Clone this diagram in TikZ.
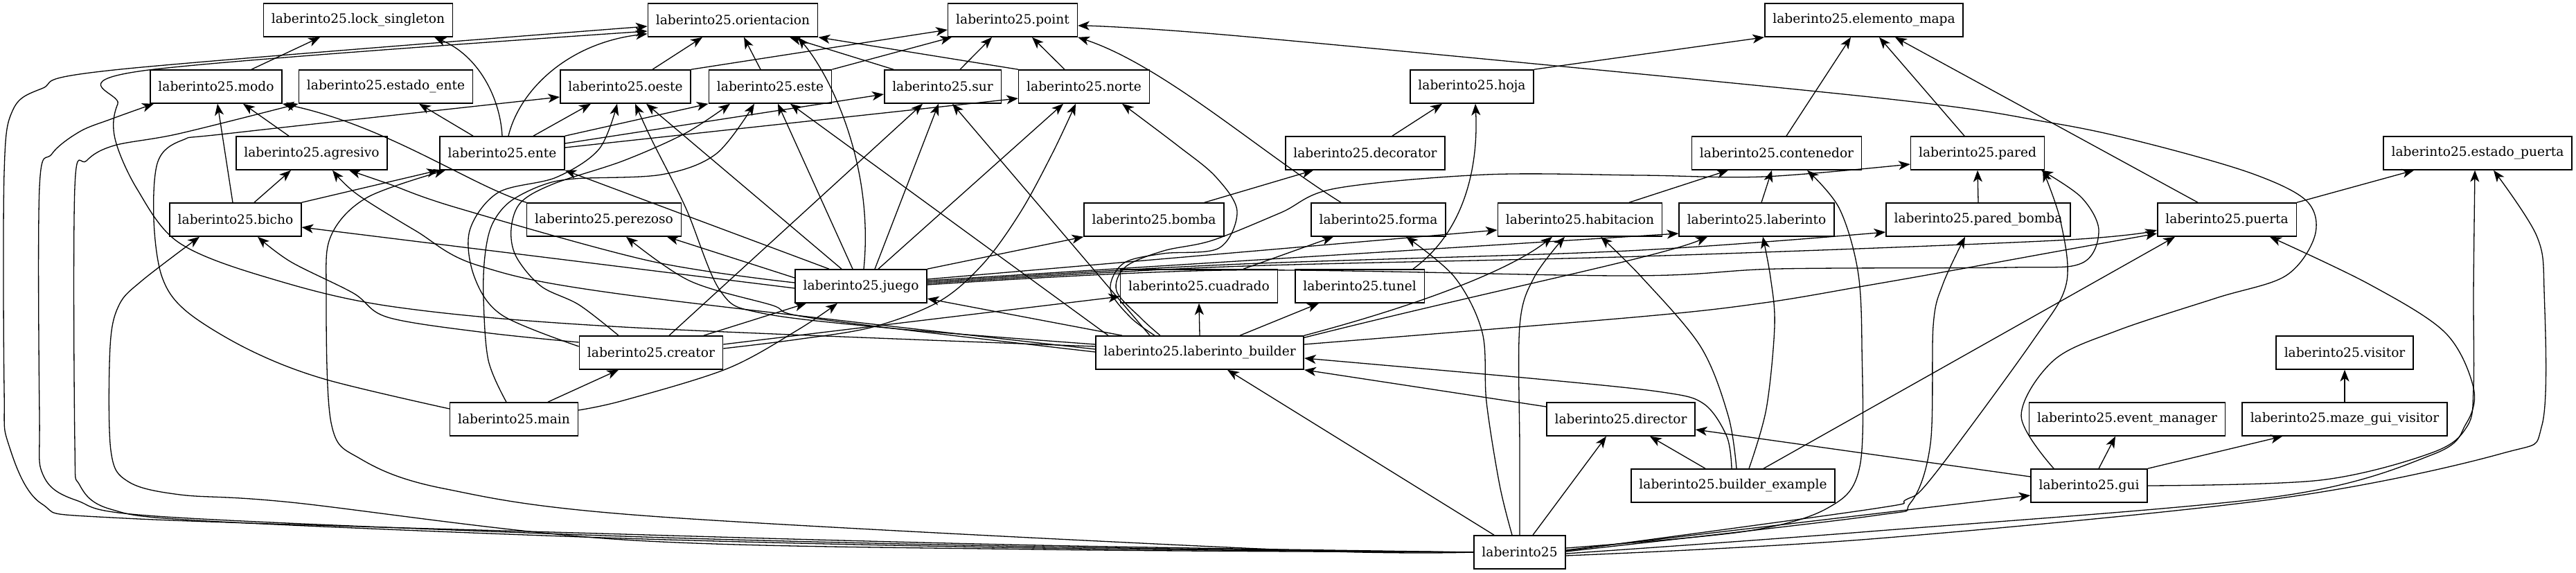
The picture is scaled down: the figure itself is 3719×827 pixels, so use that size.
\documentclass[tikz,border=0pt]{standalone}
\usepackage{fontspec}
\setmainfont{DejaVu Serif}
\usetikzlibrary{arrows.meta,calc}

\begin{document}
\begin{tikzpicture}[
    x=0.01889cm, y=-0.01889cm,
    mod/.style={draw, line width=0.85pt, minimum height=25.8pt, inner xsep=6.2pt, inner ysep=0pt},
    dep/.style={-{Stealth[length=9pt,width=7pt,inset=2.5pt]}, line width=0.7pt},
    curvy/.style={smooth, tension=0.55}]
  % fixed canvas, in pixels of the layout (y grows downwards)
  \path[use as bounding box] (0,0) rectangle (3719,827);

  % ================= modules, row by row =================
  \node[mod] (lock)     at (517,29)   {laberinto25.lock\_singleton};
  \node[mod] (orient)   at (1058,29)  {laberinto25.orientacion};
  \node[mod] (point)    at (1462,29)  {laberinto25.point};
  \node[mod] (elem)     at (2691,29)  {laberinto25.elemento\_mapa};

  \node[mod] (modo)     at (312,125)  {laberinto25.modo};
  \node[mod] (estente)  at (557,125)  {laberinto25.estado\_ente};
  \node[mod] (oeste)    at (903,125)  {laberinto25.oeste};
  \node[mod] (este)     at (1112,125) {laberinto25.este};
  \node[mod] (sur)      at (1361,125) {laberinto25.sur};
  \node[mod] (norte)    at (1565,125) {laberinto25.norte};
  \node[mod] (hoja)     at (2125,125) {laberinto25.hoja};

  \node[mod] (agresivo) at (450,221)  {laberinto25.agresivo};
  \node[mod] (ente)     at (725,221)  {laberinto25.ente};
  \node[mod] (decor)    at (1971,221) {laberinto25.decorator};
  \node[mod] (conten)   at (2565,221) {laberinto25.contenedor};
  \node[mod] (pared)    at (2855,221) {laberinto25.pared};
  \node[mod] (estpuerta) at (3577,221) {laberinto25.estado\_puerta};

  \node[mod] (bicho)    at (340,317)  {laberinto25.bicho};
  \node[mod] (perezoso) at (872,317)  {laberinto25.perezoso};
  \node[mod] (bomba)    at (1666,317) {laberinto25.bomba};
  \node[mod] (forma)    at (1990,317) {laberinto25.forma};
  \node[mod] (habit)    at (2281,317) {laberinto25.habitacion};
  \node[mod] (laber)    at (2536,317) {laberinto25.laberinto};
  \node[mod] (pbomba)   at (2856,317) {laberinto25.pared\_bomba};
  \node[mod] (puerta)   at (3215,317) {laberinto25.puerta};

  \node[mod] (juego)    at (1243,413) {laberinto25.juego};
  \node[mod] (cuadrado) at (1731,413) {laberinto25.cuadrado};
  \node[mod] (tunel)    at (1963,413) {laberinto25.tunel};

  \node[mod] (creator)  at (940,509)  {laberinto25.creator};
  \node[mod] (builder)  at (1732,509) {laberinto25.laberinto\_builder};
  \node[mod] (visitor)  at (3385,509) {laberinto25.visitor};

  \node[mod] (main)     at (742,605)  {laberinto25.main};
  \node[mod] (director) at (2340,605) {laberinto25.director};
  \node[mod] (evman)    at (3071,605) {laberinto25.event\_manager};
  \node[mod] (mgvis)    at (3385,605) {laberinto25.maze\_gui\_visitor};

  \node[mod] (bexample) at (2502,701) {laberinto25.builder\_example};
  \node[mod] (gui)      at (3016,701) {laberinto25.gui};

  \node[mod] (pkg)      at (2194,797) {laberinto25};

  % ================= package imports (bundle round the left side) =================
  \draw[dep] plot[curvy] coordinates {(pkg.west) (1500,787) (900,771) (180,748) (60,727) (12,640) (6,560) (6,250) (18,160) (60,128) (174,100) ($(orient.west)+(0,9)$)};
  \draw[dep] plot[curvy] coordinates {(pkg.west) (1500,789) (900,774) (240,746) (110,722) (62,685) (57,600) (57,270) (75,222) (115,190) (160,172) ($(modo.south)+(-90,0)$)};
  \draw[dep] plot[curvy] coordinates {(pkg.west) (1500,791) (900,777) (300,752) (160,735) (115,700) (108,640) (108,270) (125,232) (165,210) (258,193) (estente.south west)};
  \draw[dep] plot[curvy] coordinates {(pkg.west) (1500,793) (900,779) (420,725) (260,714) (185,695) (160,650) (159,500) (172,440) (205,405) ($(bicho.south)+(-52,0)$)};
  \draw[dep] plot[curvy] coordinates {(pkg.west) (1840,793) (940,745) (640,705) (520,662) (478,610) (471,420) (478,340) (530,285) ($(ente.south)+(-82,0)$)};
  % upwards and to the right
  \draw[dep] ($(pkg.north)+(-37,0)$) -- ($(builder.south)+(40,0)$);
  \draw[dep] plot[curvy] coordinates {($(pkg.north)+(-11,0)$) (2165,700) (2146,580) (2140,480) (2100,400) ($(forma.south)+(40,0)$)};
  \draw[dep] plot[curvy] coordinates {(pkg.north) (2194,650) (2194,470) (2215,400) ($(habit.south)+(-22,0)$)};
  \draw[dep] ($(pkg.north)+(19,0)$) -- ($(director.south)+(-21,0)$);
  \draw[dep] ($(pkg.east)+(0,-3)$) -- ($(gui.west)+(0,14)$);
  \draw[dep] plot[curvy] coordinates {($(pkg.east)+(0,-6)$) (2519,767) (2639,733) (2685,673) (2688,500) (2682,390) (2655,300) ($(conten.south)+(44,0)$)};
  \draw[dep] plot[curvy] coordinates {($(pkg.east)+(0,-1)$) (2700,745) (2758,726) (2787,640) (2791,470) (2805,410) ($(pbomba.south)+(-19,0)$)};
  \draw[dep] plot[curvy] coordinates {($(pkg.east)+(0,-2)$) (2700,735) (2752,721) (2791,687) (2934,493) (2983,410) (2975,320) ($(pared.south east)+(-3,0)$)};
  \draw[dep] plot[curvy] coordinates {($(pkg.east)+(0,2)$) (2700,767) (3285,717) (3512,656) (3560,612) (3571,560) (3530,480) (3420,410) ($(puerta.south)+(62,0)$)};
  \draw[dep] plot[curvy] coordinates {($(pkg.east)+(0,5)$) (2700,778) (3285,720) (3610,655) (3670,613) (3673,420) (3662,340) ($(estpuerta.south)+(23,0)$)};

  % ================= builder example, director, gui =================
  \draw[dep] ($(bexample.north)+(-40,0)$) -- ($(director.south)+(42,0)$);
  \draw[dep] plot[curvy] coordinates {($(bexample.north)+(-2,0)$) (2493,630) (2460,583) (2400,566) (2220,547) ($(builder.east)+(0,8)$)};
  \draw[dep] plot[curvy] coordinates {($(bexample.north)+(5,0)$) (2495,600) (2455,500) (2370,400) ($(habit.south)+(30,0)$)};
  \draw[dep] plot[curvy] coordinates {($(bexample.north)+(23,0)$) (2550,590) (2562,470) (2556,400) ($(laber.south)+(9,0)$)};
  \draw[dep] ($(bexample.north)+(44,0)$) -- ($(puerta.south)+(-75,0)$);
  \draw[dep] ($(director.west)+(0,-18)$) -- (builder.south east);
  \draw[dep] ($(gui.west)+(0,-13)$) -- ($(director.east)+(0,15)$);
  \draw[dep] ($(gui.north)+(14,0)$) -- ($(evman.south)+(-17,0)$);
  \draw[dep] (gui.north east) -- ($(mgvis.south)+(-90,0)$);
  \draw[dep] (mgvis.north) -- (visitor.south);
  \draw[dep] plot[curvy] coordinates {(gui.east) (3350,693) (3512,653) (3562,615) (3571,560) (3571,420) ($(estpuerta.south)+(-4,0)$)};
  \draw[dep] plot[curvy] coordinates {($(gui.north)+(-51,0)$) (2918,600) (2965,520) (3057,477) (3200,430) (3300,398) (3342,340) (3330,290) (3250,250) (3100,207) (2960,177) (2700,140) (1800,53) ($(point.east)+(0,8)$)};

  % ================= laberinto_builder =================
  \draw[dep] (builder.north) -- (cuadrado.south);
  \draw[dep] ($(builder.north)+(58,0)$) -- ($(tunel.south)+(-59,0)$);
  \draw[dep] ($(builder.north)+(-112,0)$) -- ($(juego.east)+(0,18)$);
  \draw[dep] ($(builder.north)+(-132,0)$) -- ($(este.south)+(29,0)$);
  \draw[dep] ($(builder.north)+(-72,0)$) -- ($(sur.south)+(14,0)$);
  \draw[dep] plot[curvy] coordinates {($(builder.north)+(-65,0)$) (1632,458) (1603,418) (1622,380) (1679,366) (1760,358) (1786,305) (1755,255) (1700,210) ($(norte.south)+(55,0)$)};
  \draw[dep] plot[curvy] coordinates {($(builder.north)+(-57,0)$) (1648,460) (1612,420) (1625,385) (1680,362) (1750,347) (1849,307) (1928,272) (2145,252) (2369,253) (2547,255) ($(pared.west)+(0,16)$)};
  \draw[dep] (builder.north east) .. controls (2050,440) and (2180,390) .. ($(habit.south)+(-40,0)$);
  \draw[dep] ($(builder.north east)+(0,3)$) .. controls (2150,420) and (2400,370) .. ($(laber.south)+(-71,0)$);
  \draw[dep] plot[curvy] coordinates {($(builder.east)+(0,-12)$) (2369,457) (2547,437) (2690,413) (2804,393) (2969,363) ($(puerta.west)+(0,20)$)};
  \draw[dep] plot[curvy] coordinates {($(builder.west)+(0,-9)$) (900,472) (570,443) (384,400) (258,350) (198,273) (166,200) (170,150) (207,102) ($(orient.west)+(0,16)$)};
  \draw[dep] plot[curvy] coordinates {($(builder.west)+(0,-12)$) (1300,475) (1100,452) (1040,420) (990,300) (940,200) ($(oeste.south)+(14,0)$)};
  \draw[dep] plot[curvy] coordinates {($(builder.west)+(0,-5)$) (900,425) (690,383) (600,333) (515,280) ($(agresivo.south)+(30,0)$)};
  \draw[dep] plot[curvy] coordinates {($(builder.west)+(0,-1)$) (1179,460) (1113,440) (995,405) ($(perezoso.south)+(32,0)$)};

  % ================= juego =================
  \draw[dep] ($(juego.north)+(4,0)$) .. controls (1262,240) and (1200,110) .. ($(orient.south)+(94,0)$);
  \draw[dep] ($(juego.north)+(-46,0)$) -- (ente.south east);
  \draw[dep] ($(juego.north)+(-28,0)$) -- ($(oeste.south)+(30,0)$);
  \draw[dep] ($(juego.north)+(-12,0)$) -- ($(este.south)+(11,0)$);
  \draw[dep] ($(juego.north)+(20,0)$) -- ($(sur.south)+(-6,0)$);
  \draw[dep] ($(juego.north)+(25,0)$) -- ($(norte.south)+(-30,0)$);
  \draw[dep] (juego.north east) -- (bomba.south west);
  \draw[dep] ($(juego.west)+(0,-12)$) -- ($(perezoso.south)+(91,0)$);
  \draw[dep] plot[curvy] coordinates {($(juego.west)+(0,-5)$) (940,377) (660,300) (560,265) ($(agresivo.south)+(54,0)$)};
  \draw[dep] ($(juego.west)+(0,3)$) -- ($(bicho.east)+(0,11)$);
  \draw[dep] ($(juego.east)+(0,-10)$) -- ($(habit.west)+(0,15)$);
  \draw[dep] ($(juego.east)+(0,-8)$) -- ($(laber.west)+(0,20)$);
  \draw[dep] plot[curvy] coordinates {($(juego.east)+(0,-6)$) (1770,382) (2350,362) ($(pbomba.west)+(0,18)$)};
  \draw[dep] plot[curvy] coordinates {($(juego.east)+(0,-4)$) (1770,385) (2369,370) (2969,347) ($(puerta.west)+(0,15)$)};
  \draw[dep] plot[curvy] coordinates {($(juego.east)+(0,-2)$) (1770,390) (2350,398) (2567,388) (2903,386) (3005,380) (3030,333) (3005,285) ($(pared.south)+(92,0)$)};

  % ================= creator and main =================
  \draw[dep] ($(creator.north)+(76,0)$) -- ($(juego.south)+(-79,0)$);
  \draw[dep] ($(creator.east)+(0,-12)$) -- ($(cuadrado.west)+(0,15)$);
  \draw[dep] ($(creator.north)+(26,0)$) -- ($(sur.south)+(-29,0)$);
  \draw[dep] plot[curvy] coordinates {($(creator.east)+(0,-6)$) (1150,490) (1260,472) (1356,435) (1420,380) (1474,305) (1520,220) ($(norte.south)+(-12,0)$)};
  \draw[dep] plot[curvy] coordinates {($(creator.west)+(0,-15)$) (700,480) (560,458) (510,423) (420,378) ($(bicho.south)+(32,0)$)};
  \draw[dep] plot[curvy] coordinates {($(creator.west)+(0,-9)$) (725,455) (685,400) (678,333) (719,278) (803,256) (865,215) ($(oeste.south)+(-12,0)$)};
  \draw[dep] plot[curvy] coordinates {($(creator.north)+(-47,0)$) (836,440) (781,413) (745,370) (738,330) (752,292) (800,265) (900,232) (990,192) ($(este.south)+(-58,0)$)};
  \draw[dep] plot[curvy] coordinates {($(main.north)+(-11,0)$) (705,520) (698,430) (700,370) (710,325) (735,292) (781,268) (829,258) (955,252) (1034,222) ($(este.south)+(-23,0)$)};
  \draw[dep] plot[curvy] coordinates {($(main.west)+(0,-15)$) (468,547) (360,505) (270,450) (234,400) (222,317) (228,233) (264,202) (336,192) ($(oeste.west)+(0,15)$)};
  \draw[dep] ($(main.north)+(49,0)$) -- ($(creator.south)+(-47,0)$);
  \draw[dep] plot[curvy] coordinates {($(main.east)+(0,-13)$) (900,578) (1050,532) (1152,476) ($(juego.south)+(-34,0)$)};

  % ================= entities, directions, map elements =================
  \draw[dep] ($(modo.north)+(51,0)$) -- ($(lock.south)+(-55,0)$);
  \draw[dep] ($(agresivo.north)+(-33,0)$) -- ($(modo.south)+(39,0)$);
  \draw[dep] ($(bicho.north)+(-4,0)$) -- ($(modo.south)+(2,0)$);
  \draw[dep] ($(bicho.north)+(27,0)$) -- ($(agresivo.south)+(-30,0)$);
  \draw[dep] (bicho.north east) -- ($(ente.south)+(-92,0)$);
  \draw[dep] (perezoso.north west) .. controls (680,268) and (560,182) .. (modo.south east);
  \draw[dep] (ente.north) .. controls (722,140) and (690,80) .. ($(lock.south)+(110,0)$);
  \draw[dep] ($(ente.north)+(9,0)$) .. controls (750,130) and (820,62) .. ($(orient.south west)+(0,-5)$);
  \draw[dep] ($(ente.north)+(-42,0)$) -- ($(estente.south)+(48,0)$);
  \draw[dep] ($(ente.north)+(45,0)$) -- ($(oeste.south)+(-50,0)$);
  \draw[dep] (ente.north east) -- (este.south west);
  \draw[dep] ($(ente.east)+(0,-14)$) -- ($(sur.west)+(0,11)$);
  \draw[dep] ($(ente.east)+(0,-8)$) -- ($(norte.west)+(0,17)$);
  % four directions
  \draw[dep] ($(oeste.north)+(39,0)$) -- ($(orient.south)+(-44,0)$);
  \draw[dep] ($(este.north)+(-14,0)$) -- ($(orient.south)+(16,0)$);
  \draw[dep] ($(sur.north)+(-71,0)$) -- ($(orient.south)+(82,0)$);
  \draw[dep] (norte.north west) -- (orient.south east);
  \draw[dep] (oeste.north east) -- ($(point.west)+(0,14)$);
  \draw[dep] (este.north east) -- ($(point.south)+(-88,0)$);
  \draw[dep] ($(sur.north)+(25,0)$) -- ($(point.south)+(-30,0)$);
  \draw[dep] ($(norte.north)+(-28,0)$) -- ($(point.south)+(28,0)$);
  \draw[dep] ($(forma.north)+(-54,0)$) .. controls (1820,220) and (1680,95) .. (point.south east);
  % map elements
  \draw[dep] (hoja.north east) -- (elem.south west);
  \draw[dep] ($(conten.north)+(14,0)$) -- ($(elem.south)+(-19,0)$);
  \draw[dep] ($(pared.north)+(-19,0)$) -- ($(elem.south)+(22,0)$);
  \draw[dep] ($(puerta.north)+(-42,0)$) -- ($(elem.south)+(45,0)$);
  \draw[dep] (puerta.north east) -- ($(estpuerta.south)+(-92,0)$);
  \draw[dep] ($(decor.north)+(39,0)$) -- ($(hoja.south)+(-43,0)$);
  \draw[dep] ($(tunel.north)+(77,0)$) .. controls (2120,330) and (2134,230) .. ($(hoja.south)+(5,0)$);
  \draw[dep] ($(bomba.north)+(73,0)$) -- ($(decor.south)+(-75,0)$);
  \draw[dep] ($(habit.north)+(71,0)$) -- ($(conten.south)+(-70,0)$);
  \draw[dep] ($(laber.north)+(7,0)$) -- ($(conten.south)+(-7,0)$);
  \draw[dep] (pbomba.north) -- (pared.south);
  \draw[dep] ($(cuadrado.north)+(64,0)$) -- ($(forma.south)+(-65,0)$);
\end{tikzpicture}
\end{document}
